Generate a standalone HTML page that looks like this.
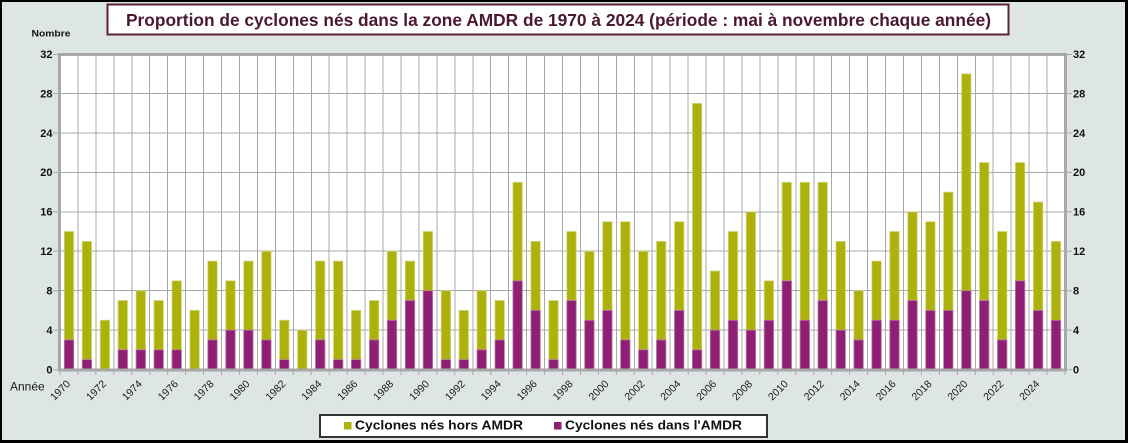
<!DOCTYPE html>
<html><head><meta charset="utf-8"><style>
html,body{margin:0;padding:0;background:#000;}
svg{display:block;}
text{font-family:"Liberation Sans",Arial,sans-serif;}
</style></head><body>
<svg width="1128" height="443" viewBox="0 0 1128 443" xmlns="http://www.w3.org/2000/svg">
<rect x="0" y="0" width="1128" height="443" fill="#000"/>
<rect x="2" y="2" width="1123" height="438" fill="#dee5e5"/>

<!-- title -->
<rect x="107.5" y="4.5" width="901" height="30" fill="#fff" stroke="#5a2438" stroke-width="2"/>
<text x="126" y="26" font-size="17.5" font-weight="bold" fill="#4a1830" textLength="865" lengthAdjust="spacingAndGlyphs">Proportion de cyclones nés dans la zone AMDR de 1970 à 2024 (période : mai à novembre chaque année)</text>

<text x="31.5" y="36.7" font-size="9.5" font-weight="bold" fill="#111" textLength="39" lengthAdjust="spacingAndGlyphs">Nombre</text>

<!-- plot area -->
<rect x="60" y="54" width="1005" height="315.5" fill="#fff"/>
<g stroke="#a8a8a8" stroke-width="1" fill="none" shape-rendering="crispEdges">
<path d="M60 93.6H1065M60 133H1065M60 172.4H1065M60 211.8H1065M60 251.2H1065M60 290.7H1065M60 330.1H1065"/>
<path d="M77.95 54V369M95.89 54V369M113.84 54V369M131.79 54V369M149.73 54V369M167.68 54V369M185.63 54V369M203.57 54V369M221.52 54V369M239.46 54V369M257.41 54V369M275.36 54V369M293.3 54V369M311.25 54V369M329.2 54V369M347.14 54V369M365.09 54V369M383.04 54V369M400.98 54V369M418.93 54V369M436.88 54V369M454.82 54V369M472.77 54V369M490.71 54V369M508.66 54V369M526.61 54V369M544.55 54V369M562.5 54V369M580.45 54V369M598.39 54V369M616.34 54V369M634.29 54V369M652.23 54V369M670.18 54V369M688.13 54V369M706.07 54V369M724.02 54V369M741.96 54V369M759.91 54V369M777.86 54V369M795.8 54V369M813.75 54V369M831.7 54V369M849.64 54V369M867.59 54V369M885.54 54V369M903.48 54V369M921.43 54V369M939.38 54V369M957.32 54V369M975.27 54V369M993.21 54V369M1011.16 54V369M1029.11 54V369M1047.05 54V369"/>
</g>

<!-- olive bars (total) -->
<g fill="#acb10c" stroke="#d4d77a" stroke-width="0.8">
<rect x="64.3" y="231.5" width="9.4" height="138"/>
<rect x="82.2" y="241.4" width="9.4" height="128.1"/>
<rect x="100.2" y="320.2" width="9.4" height="49.3"/>
<rect x="118.1" y="300.5" width="9.4" height="69"/>
<rect x="136.1" y="290.7" width="9.4" height="78.8"/>
<rect x="154" y="300.5" width="9.4" height="69"/>
<rect x="172" y="280.8" width="9.4" height="88.7"/>
<rect x="189.9" y="310.4" width="9.4" height="59.1"/>
<rect x="207.8" y="261.1" width="9.4" height="108.4"/>
<rect x="225.8" y="280.8" width="9.4" height="88.7"/>
<rect x="243.7" y="261.1" width="9.4" height="108.4"/>
<rect x="261.7" y="251.2" width="9.4" height="118.3"/>
<rect x="279.6" y="320.2" width="9.4" height="49.3"/>
<rect x="297.6" y="330.1" width="9.4" height="39.4"/>
<rect x="315.5" y="261.1" width="9.4" height="108.4"/>
<rect x="333.5" y="261.1" width="9.4" height="108.4"/>
<rect x="351.4" y="310.4" width="9.4" height="59.1"/>
<rect x="369.4" y="300.5" width="9.4" height="69"/>
<rect x="387.3" y="251.2" width="9.4" height="118.3"/>
<rect x="405.3" y="261.1" width="9.4" height="108.4"/>
<rect x="423.2" y="231.5" width="9.4" height="138"/>
<rect x="441.2" y="290.7" width="9.4" height="78.8"/>
<rect x="459.1" y="310.4" width="9.4" height="59.1"/>
<rect x="477" y="290.7" width="9.4" height="78.8"/>
<rect x="495" y="300.5" width="9.4" height="69"/>
<rect x="512.9" y="182.3" width="9.4" height="187.2"/>
<rect x="530.9" y="241.4" width="9.4" height="128.1"/>
<rect x="548.8" y="300.5" width="9.4" height="69"/>
<rect x="566.8" y="231.5" width="9.4" height="138"/>
<rect x="584.7" y="251.2" width="9.4" height="118.3"/>
<rect x="602.7" y="221.7" width="9.4" height="147.8"/>
<rect x="620.6" y="221.7" width="9.4" height="147.8"/>
<rect x="638.6" y="251.2" width="9.4" height="118.3"/>
<rect x="656.5" y="241.4" width="9.4" height="128.1"/>
<rect x="674.5" y="221.7" width="9.4" height="147.8"/>
<rect x="692.4" y="103.4" width="9.4" height="266.1"/>
<rect x="710.3" y="271" width="9.4" height="98.5"/>
<rect x="728.3" y="231.5" width="9.4" height="138"/>
<rect x="746.2" y="211.8" width="9.4" height="157.7"/>
<rect x="764.2" y="280.8" width="9.4" height="88.7"/>
<rect x="782.1" y="182.3" width="9.4" height="187.2"/>
<rect x="800.1" y="182.3" width="9.4" height="187.2"/>
<rect x="818" y="182.3" width="9.4" height="187.2"/>
<rect x="836" y="241.4" width="9.4" height="128.1"/>
<rect x="853.9" y="290.7" width="9.4" height="78.8"/>
<rect x="871.9" y="261.1" width="9.4" height="108.4"/>
<rect x="889.8" y="231.5" width="9.4" height="138"/>
<rect x="907.8" y="211.8" width="9.4" height="157.7"/>
<rect x="925.7" y="221.7" width="9.4" height="147.8"/>
<rect x="943.6" y="192.1" width="9.4" height="177.4"/>
<rect x="961.6" y="73.9" width="9.4" height="295.6"/>
<rect x="979.5" y="162.5" width="9.4" height="207"/>
<rect x="997.5" y="231.5" width="9.4" height="138"/>
<rect x="1015.4" y="162.5" width="9.4" height="207"/>
<rect x="1033.4" y="202" width="9.4" height="167.5"/>
<rect x="1051.3" y="241.4" width="9.4" height="128.1"/>
</g>

<!-- purple bars (inside AMDR) -->
<g fill="#8e1f75" stroke="#c07aae" stroke-width="0.8">
<rect x="64.3" y="339.9" width="9.4" height="29.6"/>
<rect x="82.2" y="359.6" width="9.4" height="9.9"/>
<rect x="118.1" y="349.8" width="9.4" height="19.7"/>
<rect x="136.1" y="349.8" width="9.4" height="19.7"/>
<rect x="154" y="349.8" width="9.4" height="19.7"/>
<rect x="172" y="349.8" width="9.4" height="19.7"/>
<rect x="207.8" y="339.9" width="9.4" height="29.6"/>
<rect x="225.8" y="330.1" width="9.4" height="39.4"/>
<rect x="243.7" y="330.1" width="9.4" height="39.4"/>
<rect x="261.7" y="339.9" width="9.4" height="29.6"/>
<rect x="279.6" y="359.6" width="9.4" height="9.9"/>
<rect x="315.5" y="339.9" width="9.4" height="29.6"/>
<rect x="333.5" y="359.6" width="9.4" height="9.9"/>
<rect x="351.4" y="359.6" width="9.4" height="9.9"/>
<rect x="369.4" y="339.9" width="9.4" height="29.6"/>
<rect x="387.3" y="320.2" width="9.4" height="49.3"/>
<rect x="405.3" y="300.5" width="9.4" height="69"/>
<rect x="423.2" y="290.7" width="9.4" height="78.8"/>
<rect x="441.2" y="359.6" width="9.4" height="9.9"/>
<rect x="459.1" y="359.6" width="9.4" height="9.9"/>
<rect x="477" y="349.8" width="9.4" height="19.7"/>
<rect x="495" y="339.9" width="9.4" height="29.6"/>
<rect x="512.9" y="280.8" width="9.4" height="88.7"/>
<rect x="530.9" y="310.4" width="9.4" height="59.1"/>
<rect x="548.8" y="359.6" width="9.4" height="9.9"/>
<rect x="566.8" y="300.5" width="9.4" height="69"/>
<rect x="584.7" y="320.2" width="9.4" height="49.3"/>
<rect x="602.7" y="310.4" width="9.4" height="59.1"/>
<rect x="620.6" y="339.9" width="9.4" height="29.6"/>
<rect x="638.6" y="349.8" width="9.4" height="19.7"/>
<rect x="656.5" y="339.9" width="9.4" height="29.6"/>
<rect x="674.5" y="310.4" width="9.4" height="59.1"/>
<rect x="692.4" y="349.8" width="9.4" height="19.7"/>
<rect x="710.3" y="330.1" width="9.4" height="39.4"/>
<rect x="728.3" y="320.2" width="9.4" height="49.3"/>
<rect x="746.2" y="330.1" width="9.4" height="39.4"/>
<rect x="764.2" y="320.2" width="9.4" height="49.3"/>
<rect x="782.1" y="280.8" width="9.4" height="88.7"/>
<rect x="800.1" y="320.2" width="9.4" height="49.3"/>
<rect x="818" y="300.5" width="9.4" height="69"/>
<rect x="836" y="330.1" width="9.4" height="39.4"/>
<rect x="853.9" y="339.9" width="9.4" height="29.6"/>
<rect x="871.9" y="320.2" width="9.4" height="49.3"/>
<rect x="889.8" y="320.2" width="9.4" height="49.3"/>
<rect x="907.8" y="300.5" width="9.4" height="69"/>
<rect x="925.7" y="310.4" width="9.4" height="59.1"/>
<rect x="943.6" y="310.4" width="9.4" height="59.1"/>
<rect x="961.6" y="290.7" width="9.4" height="78.8"/>
<rect x="979.5" y="300.5" width="9.4" height="69"/>
<rect x="997.5" y="339.9" width="9.4" height="29.6"/>
<rect x="1015.4" y="280.8" width="9.4" height="88.7"/>
<rect x="1033.4" y="310.4" width="9.4" height="59.1"/>
<rect x="1051.3" y="320.2" width="9.4" height="49.3"/>
</g>

<!-- plot border -->
<rect x="59.5" y="54.5" width="1006" height="315.5" fill="none" stroke="#a8a8a8" stroke-width="3"/>

<!-- ticks -->
<g stroke="#a8a8a8" stroke-width="1" fill="none">
<path d="M53 54.5H59M53 93.6H59M53 133H59M53 172.4H59M53 211.8H59M53 251.2H59M53 290.7H59M53 330.1H59M53 369.8H59"/>
<path d="M1066 54.5H1072M1066 93.6H1072M1066 133H1072M1066 172.4H1072M1066 211.8H1072M1066 251.2H1072M1066 290.7H1072M1066 330.1H1072M1066 369.8H1072"/>
<path d="M60 370V375M77.95 370V375M95.89 370V375M113.84 370V375M131.79 370V375M149.73 370V375M167.68 370V375M185.63 370V375M203.57 370V375M221.52 370V375M239.46 370V375M257.41 370V375M275.36 370V375M293.3 370V375M311.25 370V375M329.2 370V375M347.14 370V375M365.09 370V375M383.04 370V375M400.98 370V375M418.93 370V375M436.88 370V375M454.82 370V375M472.77 370V375M490.71 370V375M508.66 370V375M526.61 370V375M544.55 370V375M562.5 370V375M580.45 370V375M598.39 370V375M616.34 370V375M634.29 370V375M652.23 370V375M670.18 370V375M688.13 370V375M706.07 370V375M724.02 370V375M741.96 370V375M759.91 370V375M777.86 370V375M795.8 370V375M813.75 370V375M831.7 370V375M849.64 370V375M867.59 370V375M885.54 370V375M903.48 370V375M921.43 370V375M939.38 370V375M957.32 370V375M975.27 370V375M993.21 370V375M1011.16 370V375M1029.11 370V375M1047.05 370V375M1065 370V375"/>
</g>

<!-- y labels -->
<g font-size="11" font-weight="bold" fill="#111" text-anchor="end">
<text x="52.5" y="373.4">0</text>
<text x="52.5" y="333.9">4</text>
<text x="52.5" y="294.5">8</text>
<text x="52.5" y="255">12</text>
<text x="52.5" y="215.6">16</text>
<text x="52.5" y="176.2">20</text>
<text x="52.5" y="136.8">24</text>
<text x="52.5" y="97.4">28</text>
<text x="52.5" y="58">32</text>
</g>
<g font-size="11" font-weight="bold" fill="#111">
<text x="1073" y="373.4">0</text>
<text x="1073" y="333.9">4</text>
<text x="1073" y="294.5">8</text>
<text x="1073" y="255">12</text>
<text x="1073" y="215.6">16</text>
<text x="1073" y="176.2">20</text>
<text x="1073" y="136.8">24</text>
<text x="1073" y="97.4">28</text>
<text x="1073" y="58">32</text>
</g>

<text x="10" y="390.5" font-size="12" fill="#1a1a1a">Année</text>

<!-- x labels -->
<g font-size="10.5" fill="#1a1a1a" text-anchor="end">
<text transform="translate(71,384.5) rotate(-45)">1970</text>
<text transform="translate(106.9,384.5) rotate(-45)">1972</text>
<text transform="translate(142.8,384.5) rotate(-45)">1974</text>
<text transform="translate(178.7,384.5) rotate(-45)">1976</text>
<text transform="translate(214.5,384.5) rotate(-45)">1978</text>
<text transform="translate(250.4,384.5) rotate(-45)">1980</text>
<text transform="translate(286.3,384.5) rotate(-45)">1982</text>
<text transform="translate(322.2,384.5) rotate(-45)">1984</text>
<text transform="translate(358.1,384.5) rotate(-45)">1986</text>
<text transform="translate(394,384.5) rotate(-45)">1988</text>
<text transform="translate(429.9,384.5) rotate(-45)">1990</text>
<text transform="translate(465.8,384.5) rotate(-45)">1992</text>
<text transform="translate(501.7,384.5) rotate(-45)">1994</text>
<text transform="translate(537.6,384.5) rotate(-45)">1996</text>
<text transform="translate(573.5,384.5) rotate(-45)">1998</text>
<text transform="translate(609.4,384.5) rotate(-45)">2000</text>
<text transform="translate(645.3,384.5) rotate(-45)">2002</text>
<text transform="translate(681.2,384.5) rotate(-45)">2004</text>
<text transform="translate(717,384.5) rotate(-45)">2006</text>
<text transform="translate(752.9,384.5) rotate(-45)">2008</text>
<text transform="translate(788.8,384.5) rotate(-45)">2010</text>
<text transform="translate(824.7,384.5) rotate(-45)">2012</text>
<text transform="translate(860.6,384.5) rotate(-45)">2014</text>
<text transform="translate(896.5,384.5) rotate(-45)">2016</text>
<text transform="translate(932.4,384.5) rotate(-45)">2018</text>
<text transform="translate(968.3,384.5) rotate(-45)">2020</text>
<text transform="translate(1004.2,384.5) rotate(-45)">2022</text>
<text transform="translate(1040.1,384.5) rotate(-45)">2024</text>
</g>

<!-- legend -->
<rect x="320" y="415" width="447" height="22" fill="#fff" stroke="#333" stroke-width="2"/>
<rect x="344" y="422" width="7.5" height="7.5" fill="#acb10c"/>
<text x="355" y="429.5" font-size="13" font-weight="bold" fill="#111" textLength="168" lengthAdjust="spacingAndGlyphs">Cyclones nés hors AMDR</text>
<rect x="554" y="422" width="7.5" height="7.5" fill="#8e1f75"/>
<text x="565" y="429.5" font-size="13" font-weight="bold" fill="#111" textLength="177" lengthAdjust="spacingAndGlyphs">Cyclones nés dans l'AMDR</text>
</svg>
</body></html>
